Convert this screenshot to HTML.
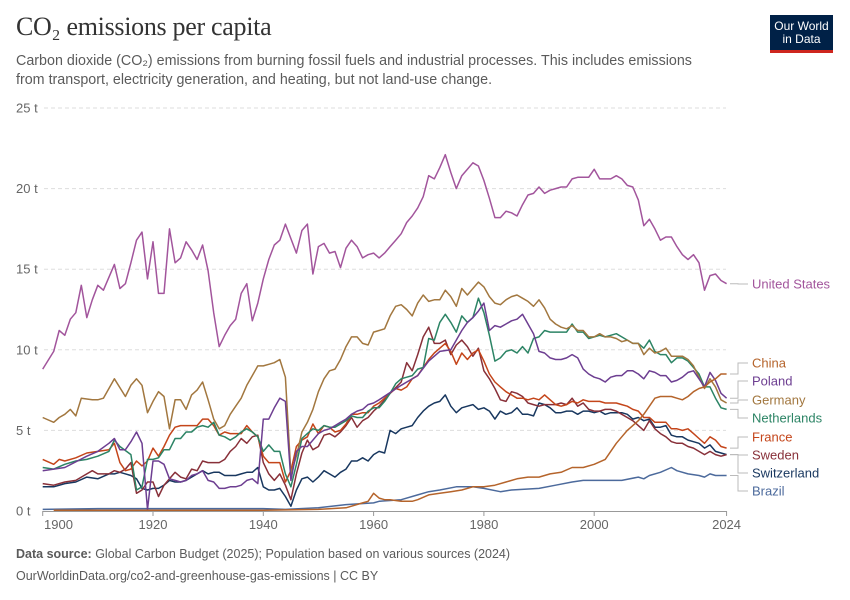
<!DOCTYPE html>
<html><head><meta charset="utf-8">
<style>
body{margin:0;background:#fff;font-family:"Liberation Sans",sans-serif;}
#wrap{position:relative;width:850px;height:600px;overflow:hidden;}
.title{position:absolute;left:16px;top:12px;font-family:"Liberation Serif",serif;font-size:26px;color:#333;letter-spacing:-0.3px;}
.sub{position:absolute;left:16px;top:52px;width:695px;font-size:14.3px;line-height:18.5px;color:#5b5b5b;}
.logo{position:absolute;left:770px;top:15px;width:63px;height:38px;background:#002147;color:#fff;font-size:12px;line-height:13px;text-align:center;box-sizing:border-box;padding-top:5px;border-bottom:3px solid #ce261e;}
.foot{position:absolute;left:16px;font-size:12.5px;color:#5b5b5b;}
</style></head><body>
<div id="wrap">
<div class="title">CO₂ emissions per capita</div>
<div class="sub">Carbon dioxide (CO₂) emissions from burning fossil fuels and industrial processes. This includes emissions from transport, electricity generation, and heating, but not land-use change.</div>
<div class="logo">Our World<br>in Data</div>
<svg id="chart" width="850" height="600" style="position:absolute;left:0;top:0"></svg>
<div class="foot" style="top:547px"><b>Data source:</b> Global Carbon Budget (2025); Population based on various sources (2024)</div>
<div class="foot" style="top:569px">OurWorldinData.org/co2-and-greenhouse-gas-emissions | CC BY</div>
</div>
<script>
const yTicks=[0,5,10,15,20,25];
const xTicks=[1900,1920,1940,1960,1980,2000,2024];
const seriesNames=["United States","China","Poland","Germany","Netherlands","France","Sweden","Switzerland","Brazil"];
const seriesColors=["#a2559c","#b5642b","#6d3e91","#a2773f","#2c8465","#c4451a","#883039","#18375f","#4c6a9c"];
const labelY=[284,363,381,400,418,437,455,473,491];

const usYears=[1900,1902,1903,1904,1905,1906,1907,1908,1909,1910,1911,1912,1913,1914,1915,1916,1917,1918,1919,1920,1921,1922,1923,1924,1925,1926,1927,1928,1929,1930,1931,1932,1933,1934,1935,1936,1937,1938,1939,1940,1941,1942,1943,1944,1945,1946,1947,1948,1949,1950,1951,1952,1953,1954,1955,1956,1957,1958,1959,1960,1961,1962,1963,1964,1965,1966,1967,1968,1969,1970,1971,1972,1973,1974,1975,1976,1977,1978,1979,1980,1981,1982,1983,1984,1985,1986,1987,1988,1989,1990,1991,1992,1993,1994,1995,1996,1997,1998,1999,2000,2001,2002,2003,2004,2005,2006,2007,2008,2009,2010,2011,2012,2013,2014,2015,2016,2017,2018,2019,2020,2021,2022,2023,2024];
const usValues=[8.8,9.9,11.2,10.9,11.9,12.3,14.0,12.0,13.1,14.0,13.7,14.5,15.3,13.8,14.1,15.4,16.8,17.3,14.4,16.7,13.5,13.5,17.5,15.4,15.7,16.7,16.2,15.6,16.5,14.9,12.3,10.2,10.9,11.5,11.9,13.5,14.1,11.8,12.9,14.4,15.6,16.5,16.8,17.8,16.9,16.0,17.4,17.8,14.7,16.4,16.6,16.0,16.1,15.1,16.3,16.8,16.4,15.7,15.9,16.0,15.7,16.0,16.4,16.8,17.2,17.9,18.3,18.8,19.5,20.8,20.6,21.3,22.1,21.0,20.0,20.8,21.2,21.6,21.4,20.5,19.4,18.2,18.2,18.6,18.5,18.3,19.0,19.6,19.7,20.1,19.7,19.9,20.0,20.1,20.1,20.6,20.7,20.7,20.7,21.2,20.6,20.6,20.6,20.8,20.6,20.2,20.1,19.3,17.7,18.1,17.5,16.8,17.0,17.0,16.4,15.9,15.6,15.9,15.4,13.7,14.6,14.7,14.3,14.1];

const cnYears=[1902,1920,1940,1950,1955,1958,1959,1960,1961,1962,1963,1965,1967,1968,1970,1972,1974,1976,1978,1980,1982,1984,1986,1988,1990,1992,1994,1996,1998,2000,2002,2003,2004,2005,2006,2007,2008,2009,2010,2011,2012,2013,2014,2015,2016,2017,2018,2019,2020,2021,2022,2023,2024];
const cnValues=[0.05,0.05,0.05,0.1,0.2,0.5,0.6,1.1,0.8,0.7,0.7,0.6,0.6,0.7,1.0,1.1,1.2,1.3,1.5,1.5,1.6,1.8,2.0,2.1,2.1,2.3,2.4,2.7,2.7,2.9,3.2,3.7,4.2,4.6,5.0,5.3,5.6,6.0,6.5,7.0,7.1,7.1,7.1,7.0,6.9,7.1,7.4,7.6,7.7,8.0,8.2,8.5,8.5];

const plYears=[1900,1904,1908,1910,1912,1913,1914,1915,1916,1917,1918,1919,1920,1921,1922,1923,1924,1925,1926,1927,1928,1929,1930,1931,1932,1933,1934,1935,1936,1937,1938,1939,1940,1941,1942,1943,1944,1945,1946,1947,1948,1949,1950,1951,1952,1953,1954,1955,1956,1957,1958,1959,1960,1961,1965,1968,1970,1972,1974,1975,1976,1977,1978,1979,1980,1981,1982,1983,1984,1985,1986,1987,1988,1989,1990,1991,1992,1993,1994,1995,1996,1997,1998,1999,2000,2001,2002,2003,2004,2005,2006,2007,2008,2009,2010,2011,2012,2013,2014,2015,2016,2017,2018,2019,2020,2021,2022,2023,2024];
const plValues=[2.5,2.7,3.4,3.7,4.2,4.5,3.8,3.8,4.3,4.9,4.2,0.1,3.1,3.1,2.9,2.0,1.9,1.8,1.9,2.2,2.3,2.5,1.9,1.8,1.4,1.4,1.5,1.5,1.6,1.9,2.0,1.7,5.7,5.7,6.4,7.0,6.8,1.9,3.7,4.0,4.0,4.4,4.8,5.0,5.1,5.3,5.5,5.7,6.0,6.2,6.3,6.6,6.7,6.9,7.8,8.4,9.3,9.9,10.0,10.6,11.2,11.7,12.0,12.4,12.9,11.2,11.5,11.4,11.6,11.8,11.9,12.2,11.6,11.0,9.9,9.8,9.5,9.4,9.4,9.5,9.7,9.5,8.8,8.5,8.3,8.2,8.0,8.3,8.4,8.4,8.7,8.7,8.5,8.2,8.7,8.6,8.4,8.4,8.0,8.1,8.3,8.6,8.7,8.2,7.7,8.6,8.1,7.3,7.0];

const deYears=[1900,1902,1903,1904,1905,1906,1907,1909,1910,1911,1913,1915,1916,1917,1918,1919,1920,1921,1922,1923,1924,1925,1926,1927,1928,1929,1930,1931,1932,1933,1934,1935,1936,1937,1938,1939,1940,1941,1942,1943,1944,1945,1946,1947,1948,1949,1950,1951,1952,1953,1954,1955,1956,1957,1958,1959,1960,1961,1962,1963,1964,1965,1966,1967,1968,1969,1970,1971,1972,1973,1974,1975,1976,1977,1978,1979,1980,1981,1982,1983,1984,1985,1986,1987,1988,1989,1990,1991,1992,1993,1994,1995,1996,1997,1998,1999,2000,2001,2002,2003,2004,2005,2006,2007,2008,2009,2010,2011,2012,2013,2014,2015,2016,2017,2018,2019,2020,2021,2022,2023,2024];
const deValues=[5.8,5.5,5.8,6.0,6.3,5.9,7.0,6.9,6.9,7.0,8.2,7.1,7.8,8.2,7.8,6.1,6.8,7.4,7.1,5.1,6.9,6.9,6.3,7.2,7.5,8.0,6.9,5.7,5.1,5.3,6.0,6.5,7.0,7.8,8.4,9.0,9.0,9.1,9.2,9.4,8.3,2.3,3.4,4.9,5.5,6.3,7.4,8.2,8.7,8.8,9.4,10.2,10.8,10.8,10.4,10.3,11.1,11.2,11.3,12.1,12.7,12.8,12.5,12.1,12.9,13.4,13.0,13.1,13.1,13.7,13.3,12.7,13.8,13.4,13.8,14.2,13.9,13.3,12.9,12.8,13.1,13.3,13.4,13.2,13.0,12.7,13.1,12.6,11.9,11.6,11.4,11.3,11.5,11.2,11.2,10.8,10.8,11.0,10.8,10.8,10.7,10.5,10.6,10.4,10.4,9.7,10.1,9.8,9.9,10.1,9.6,9.6,9.6,9.4,9.0,8.3,7.6,8.2,7.7,6.9,6.7];

const nlYears=[1900,1902,1904,1906,1908,1910,1912,1913,1914,1916,1917,1918,1919,1920,1921,1922,1923,1924,1925,1926,1927,1928,1929,1930,1931,1932,1933,1934,1935,1936,1937,1938,1939,1940,1941,1942,1943,1944,1945,1946,1947,1948,1949,1950,1951,1952,1953,1954,1955,1956,1957,1958,1959,1960,1961,1962,1963,1964,1965,1966,1967,1968,1969,1970,1971,1972,1973,1974,1975,1976,1977,1978,1979,1980,1981,1982,1983,1984,1985,1986,1987,1988,1989,1990,1991,1992,1993,1994,1995,1996,1997,1998,1999,2000,2001,2002,2003,2004,2005,2006,2007,2008,2009,2010,2011,2012,2013,2014,2015,2016,2017,2018,2019,2020,2021,2022,2023,2024];
const nlValues=[2.7,2.6,2.9,3.1,3.2,3.4,3.7,4.4,4.0,3.5,1.3,1.5,3.2,3.2,3.3,3.8,3.8,4.5,4.5,4.9,4.9,5.2,5.3,5.2,5.5,4.7,4.6,4.4,4.6,4.9,5.1,4.9,4.6,3.7,4.1,3.7,3.7,2.3,1.5,2.9,4.5,4.8,5.1,5.0,5.3,5.2,5.2,5.4,5.6,5.9,5.8,5.8,6.2,6.4,6.4,6.8,7.3,7.9,8.2,8.3,8.4,8.8,8.9,10.7,10.6,11.7,12.2,11.7,11.1,12.1,11.7,12.0,13.2,12.3,10.9,9.3,9.5,9.9,10.0,9.8,10.2,9.8,10.7,10.8,11.2,11.1,11.1,11.1,11.1,11.6,11.1,11.1,10.7,10.8,10.9,10.8,10.9,11.0,10.8,10.6,10.4,10.4,10.1,10.6,9.9,9.7,9.7,9.2,9.5,9.5,9.3,8.9,8.5,7.7,7.7,7.0,6.4,6.3];

const frYears=[1900,1902,1903,1904,1906,1908,1910,1912,1913,1914,1915,1916,1917,1918,1919,1920,1921,1922,1923,1924,1925,1926,1927,1928,1929,1930,1931,1932,1933,1934,1935,1936,1937,1938,1939,1940,1941,1942,1943,1944,1945,1946,1947,1948,1949,1950,1951,1952,1953,1954,1955,1956,1957,1958,1959,1960,1961,1963,1964,1965,1966,1967,1968,1969,1970,1971,1972,1973,1974,1975,1976,1977,1978,1979,1980,1981,1982,1983,1984,1985,1986,1987,1988,1989,1990,1991,1992,1993,1994,1995,1996,1997,1998,1999,2000,2001,2002,2003,2004,2005,2006,2007,2008,2009,2010,2011,2012,2013,2014,2015,2016,2017,2018,2019,2020,2021,2022,2023,2024];
const frValues=[3.2,2.9,3.2,3.1,3.3,3.6,3.7,3.8,4.2,3.0,2.5,2.6,3.1,2.8,3.1,3.9,3.4,4.0,4.7,5.2,5.3,5.3,5.3,5.3,5.7,5.7,5.3,4.7,4.9,4.8,4.8,4.8,5.3,4.9,4.6,3.4,3.0,3.0,3.0,1.8,2.5,4.0,4.4,4.6,5.4,4.8,5.3,5.2,4.9,5.0,5.4,6.0,6.0,6.1,6.1,6.5,6.7,7.3,7.6,7.5,7.7,8.2,8.4,8.9,9.4,9.8,10.1,10.4,9.9,9.1,9.8,9.4,9.8,10.0,9.3,8.5,8.0,7.7,7.4,7.2,7.0,7.0,6.9,7.0,6.9,7.2,6.9,6.6,6.5,6.6,6.8,6.7,6.9,6.8,6.8,6.8,6.7,6.7,6.7,6.6,6.5,6.3,6.2,5.8,5.8,5.5,5.5,5.5,5.1,5.1,5.0,5.1,4.8,4.5,4.2,4.6,4.4,4.0,3.9];

const seYears=[1900,1902,1904,1906,1908,1909,1910,1912,1913,1914,1915,1916,1917,1918,1919,1920,1921,1922,1923,1924,1925,1926,1927,1928,1929,1930,1931,1932,1933,1934,1935,1936,1937,1938,1939,1940,1941,1942,1943,1944,1945,1946,1947,1948,1949,1950,1951,1952,1953,1954,1955,1956,1957,1958,1959,1960,1961,1963,1965,1966,1967,1968,1969,1970,1971,1972,1973,1974,1975,1976,1977,1978,1979,1980,1981,1982,1983,1984,1985,1986,1987,1988,1989,1990,1991,1992,1993,1994,1995,1996,1997,1998,1999,2000,2001,2002,2003,2004,2005,2006,2007,2008,2009,2010,2011,2012,2013,2014,2015,2016,2017,2018,2019,2020,2021,2022,2023,2024];
const seValues=[1.7,1.6,1.8,1.9,2.3,2.5,2.3,2.3,2.5,2.4,2.6,3.0,1.1,1.3,1.8,1.8,0.9,1.6,2.0,2.4,2.1,2.0,2.6,2.5,3.1,3.0,3.0,3.0,3.2,3.7,4.0,4.5,4.2,4.6,4.7,3.0,2.3,1.9,2.3,1.6,0.7,2.3,3.6,4.4,3.8,4.0,4.7,4.8,4.6,4.9,5.3,5.8,5.2,5.6,5.8,6.2,6.5,7.3,8.0,9.2,8.7,9.7,10.8,11.4,10.4,10.4,10.6,9.7,10.3,10.6,10.2,9.6,10.1,8.7,8.2,7.6,6.9,6.8,7.4,7.3,7.1,6.7,6.6,6.5,6.6,6.6,6.6,6.7,6.6,7.0,6.5,6.7,6.3,6.2,6.2,6.3,6.3,6.2,6.0,5.8,5.6,5.3,5.0,5.6,5.1,4.8,4.6,4.3,4.2,4.2,4.0,3.9,3.7,3.5,3.7,3.5,3.4,3.5];

const chYears=[1900,1902,1904,1906,1908,1910,1912,1913,1914,1916,1917,1918,1919,1920,1921,1922,1923,1924,1925,1926,1927,1928,1929,1930,1931,1932,1933,1934,1935,1936,1937,1938,1939,1940,1941,1942,1943,1944,1945,1946,1947,1948,1949,1950,1951,1952,1953,1954,1955,1956,1957,1958,1959,1960,1961,1962,1963,1964,1965,1966,1967,1968,1969,1970,1971,1972,1973,1974,1975,1976,1977,1978,1979,1980,1981,1982,1983,1984,1985,1986,1987,1988,1989,1990,1991,1992,1993,1994,1995,1996,1997,1998,1999,2000,2001,2002,2003,2004,2005,2006,2007,2008,2009,2010,2011,2012,2013,2014,2015,2016,2017,2018,2019,2020,2021,2022,2023,2024];
const chValues=[1.5,1.5,1.7,1.8,2.1,2.0,2.3,2.3,2.4,2.2,2.0,1.4,1.3,1.4,1.4,1.6,1.9,1.8,1.8,1.9,2.1,2.3,2.5,2.3,2.4,2.4,2.2,2.2,2.2,2.3,2.4,2.4,2.7,1.5,1.3,1.3,1.4,0.9,0.3,1.3,2.0,2.1,1.8,2.1,2.5,2.3,2.1,2.4,2.6,3.1,3.1,3.3,3.1,3.5,3.7,3.6,5.0,4.8,5.1,5.2,5.3,5.8,6.2,6.5,6.7,6.8,7.2,6.5,6.1,6.4,6.5,6.6,6.3,6.4,6.2,5.7,6.2,6.0,6.1,6.4,6.0,6.0,5.9,6.7,6.6,6.4,6.1,6.1,6.2,6.2,6.0,6.2,6.2,6.1,6.2,6.0,6.1,6.1,6.1,6.0,5.7,5.8,5.6,5.7,5.2,5.2,5.3,4.7,4.6,4.6,4.4,4.3,4.2,3.9,4.1,3.7,3.6,3.5];

const brYears=[1900,1910,1920,1930,1940,1944,1950,1955,1960,1961,1965,1968,1970,1972,1975,1978,1980,1983,1985,1990,1993,1996,1998,2000,2003,2005,2008,2009,2010,2012,2014,2015,2017,2019,2020,2021,2022,2024];
const brValues=[0.1,0.15,0.15,0.15,0.15,0.1,0.2,0.4,0.5,0.6,0.7,1.0,1.2,1.3,1.5,1.5,1.4,1.2,1.3,1.4,1.6,1.8,1.9,1.9,1.9,1.9,2.1,2.0,2.2,2.4,2.7,2.5,2.3,2.2,2.1,2.3,2.2,2.2];

const allYears=[usYears,cnYears,plYears,deYears,nlYears,frYears,seYears,chYears,brYears];
const allValues=[usValues,cnValues,plValues,deValues,nlValues,frValues,seValues,chValues,brValues];

const NS="http://www.w3.org/2000/svg";
const svg=document.getElementById('chart');
const X0=42.7, PX=5.515, Y0=511, PY=16.12;
function xs(yr){return X0+(yr-1900)*PX;}
function ys(v){return Y0-v*PY;}
function mk(tag,attrs){const e=document.createElementNS(NS,tag);for(const k in attrs)e.setAttribute(k,attrs[k]);svg.appendChild(e);return e;}

yTicks.forEach(t=>{
  if(t>0){
    const g=mk('line',{x1:44,x2:726,y1:ys(t),y2:ys(t),stroke:'#ddd','stroke-dasharray':'4,3','stroke-width':1});
    
    
  }
  const tx=mk('text',{x:16,y:ys(t)+4.5,'font-size':13,fill:'#666','font-family':'Liberation Sans, sans-serif'});
  tx.textContent=t+' t';
  
  
});
const ax=mk('line',{x1:X0,x2:726.5,y1:Y0+0.5,y2:Y0+0.5,stroke:'#999','stroke-width':1});


xTicks.forEach(t=>{
  const tk=mk('line',{x1:xs(t),x2:xs(t),y1:Y0,y2:Y0+5,stroke:'#999'});
  
  
  let cx=xs(t);
  const tx=mk('text',{x:t===1900?44:cx,y:529,'font-size':13,fill:'#666','text-anchor':t===1900?'start':'middle','font-family':'Liberation Sans, sans-serif'});
  tx.textContent=t;
  
  
});

for(let i=allYears.length-1;i>=0;i--){
  const yrs=allYears[i], vals=allValues[i];
  const d=yrs.map((y,j)=>(j?'L':'M')+xs(y).toFixed(1)+','+ys(vals[j]).toFixed(1)).join('');
  const p=mk('path',{d:d,fill:'none',stroke:seriesColors[i],'stroke-width':1.5,'stroke-linejoin':'round'});
  
  
  const lastY=ys(vals[vals.length-1]);
  const ly=labelY[i];
  const c=mk('path',{d:'M730,'+lastY.toFixed(1)+'H738V'+ly+'H748',fill:'none',stroke:'#bbb','stroke-width':1});
  
  
  const lt=mk('text',{x:752,y:ly+4.5,'font-size':13,fill:seriesColors[i],'font-family':'Liberation Sans, sans-serif'});
  lt.textContent=seriesNames[i];
  
  
}
</script>
</body></html>
